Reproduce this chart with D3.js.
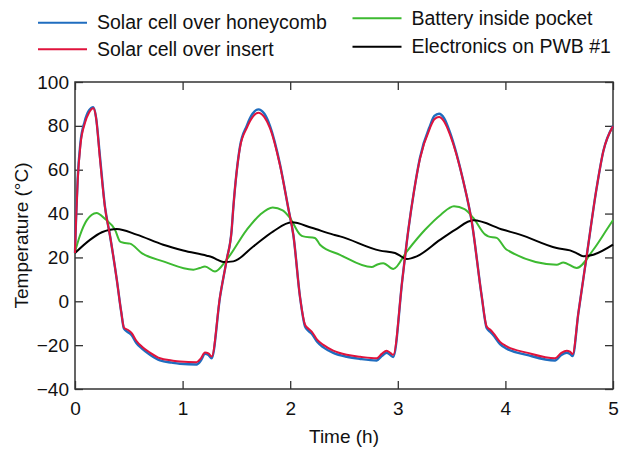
<!DOCTYPE html>
<html>
<head>
<meta charset="utf-8">
<script src="https://cdnjs.cloudflare.com/ajax/libs/d3/7.8.5/d3.min.js"></script>
<style>
  body { margin: 0; background: #fff; }
  text { font-family: "Liberation Sans", Arial, sans-serif; fill: #111; }
</style>
</head>
<body>
<div id="container"></div>
<script>
// time axis for solar cell curves (h)
const solarTime = [0, 0.01, 0.025, 0.05, 0.09, 0.13, 0.17, 0.195, 0.232, 0.279, 0.325, 0.388, 0.43, 0.455, 0.49, 0.527, 0.57, 0.62, 0.7, 0.79, 0.9, 0.976, 1.13, 1.17, 1.208, 1.24, 1.27, 1.348, 1.41, 1.456, 1.471, 1.533, 1.596, 1.65, 1.703, 1.76, 1.812, 1.905, 1.982, 2.03, 2.091, 2.138, 2.17, 2.2, 2.25, 2.308, 2.4, 2.525, 2.65, 2.804, 2.85, 2.897, 2.93, 2.958, 3.042, 3.098, 3.15, 3.206, 3.299, 3.34, 3.383, 3.43, 3.485, 3.609, 3.687, 3.78, 3.826, 3.86, 3.888, 3.95, 4.012, 4.198, 4.461, 4.52, 4.57, 4.6, 4.625, 4.678, 4.755, 4.848, 4.91, 5.0];
const honeycomb = [22, 38, 56, 72, 82, 87, 88.5, 84, 66, 43, 30, 10, -5, -12.5, -14, -15.5, -19, -21.5, -24.5, -27, -28, -28.5, -28.8, -27, -24, -24.5, -26, 2, 19, 32.6, 42.5, 70.5, 80, 85.5, 87.5, 85.5, 80, 62.5, 42.5, 30, 2, -11.5, -13.5, -14.8, -18.5, -21, -23.5, -25.3, -26.3, -27, -25, -23.5, -24.5, -25.4, 9.8, 32.6, 50, 65.5, 80, 84.5, 85.5, 83.5, 77, 54.7, 36.4, 2.2, -12.2, -14, -15.5, -19.5, -21.6, -24.4, -27, -24.5, -23.5, -24, -25, -5.4, 20.5, 51.7, 68.4, 80];
const insert = [22, 37, 55, 71, 81, 86, 88, 84, 65, 42.7, 30, 10, -5, -12, -13, -14.5, -18, -20.6, -23.5, -26, -27, -27.5, -27.8, -26, -23.4, -23.8, -25.2, 2.2, 19, 32.6, 42.5, 70, 79, 84, 86, 84, 79, 62, 42.5, 30, 2, -10.7, -12.5, -13.8, -17.5, -19.9, -22.5, -24.4, -25.3, -26, -24, -22.5, -23.5, -24.4, 9.8, 32.6, 50, 65, 79, 83, 84, 82, 76, 54.7, 36.4, 2.2, -11.5, -13, -14.5, -18.5, -20.6, -23.4, -26, -23.5, -22.5, -23, -24, -5.4, 20.5, 51.7, 68.4, 79.8];

const batteryTime = [0, 0.046, 0.11, 0.2, 0.28, 0.372, 0.418, 0.45, 0.511, 0.62, 0.82, 1.1, 1.16, 1.208, 1.301, 1.41, 1.596, 1.72, 1.837, 1.93, 1.998, 2.091, 2.122, 2.23, 2.277, 2.463, 2.757, 2.81, 2.865, 2.958, 3.083, 3.253, 3.4, 3.522, 3.62, 3.702, 3.81, 3.841, 3.919, 4.012, 4.477, 4.538, 4.663, 4.817, 4.941, 5.0];
const battery = [22.5, 30, 37, 40.3, 37.5, 32.6, 27.3, 26.7, 26.3, 22, 18.2, 14.4, 15.2, 15.9, 13.6, 19, 32.6, 39.5, 42.8, 41.5, 38, 30.5, 29.6, 28.9, 25.8, 21.2, 15.6, 16.8, 17.4, 14.7, 22.7, 32.6, 39.5, 43.3, 42, 38, 30.5, 29.6, 28.9, 23.5, 16.7, 17.7, 15.2, 23.5, 32.6, 37];

const pwbTime = [0, 0.139, 0.25, 0.325, 0.388, 0.573, 0.82, 1.006, 1.224, 1.27, 1.32, 1.378, 1.471, 1.657, 1.843, 2.014, 2.2, 2.4, 2.463, 2.835, 2.974, 3.03, 3.083, 3.176, 3.392, 3.532, 3.702, 3.98, 4.136, 4.477, 4.6, 4.66, 4.724, 4.817, 5.0];
const pwb = [22, 28, 31.5, 32.6, 33, 30.4, 25.8, 23.2, 20.8, 20.2, 19, 17.9, 18.2, 25, 31.9, 36, 33.5, 30.4, 29.6, 23.1, 22, 20.5, 19.3, 20.5, 28, 32.6, 36.9, 32.6, 30.4, 24.3, 23.2, 22, 20.5, 21.2, 25.8];

const xTicks = [0, 1, 2, 3, 4, 5];
const yTicks = [-40, -20, 0, 20, 40, 60, 80, 100];

const seriesNames = ["Solar cell over honeycomb", "Solar cell over insert", "Battery inside pocket", "Electronics on PWB #1"];
const seriesColors = ["#1f6dbf", "#e0133c", "#3dba31", "#000000"];

const w = 619;
const h = 449;
const padL = 75, padR = 613, padT = 82, padB = 389;

const xScale = d3.scaleLinear().domain([0, 5]).range([padL, padR]);
const yScale = d3.scaleLinear().domain([-40, 100]).range([padB, padT]);

const svg = d3.select("#container")
  .append("svg")
  .attr("width", w)
  .attr("height", h);

// axes: inward ticks on all four sides
svg.append("g")
  .attr("transform", "translate(0," + padB + ")")
  .call(d3.axisBottom(xScale).tickValues(xTicks).tickFormat(d3.format("d")).tickSizeInner(-8).tickSizeOuter(0).tickPadding(13))
  .call(g => g.select(".domain").remove())
  .call(g => g.selectAll("text").style("font-size", "19px").style("font-family", "Liberation Sans, Arial, sans-serif").attr("fill", "#111"));

svg.append("g")
  .attr("transform", "translate(0," + padT + ")")
  .call(d3.axisTop(xScale).tickValues(xTicks).tickSizeInner(-8).tickSizeOuter(0).tickFormat(""))
  .call(g => g.select(".domain").remove());

svg.append("g")
  .attr("transform", "translate(" + padL + ",0)")
  .call(d3.axisLeft(yScale).tickValues(yTicks).tickSizeInner(-8).tickSizeOuter(0).tickPadding(6))
  .call(g => g.select(".domain").remove())
  .call(g => g.selectAll("text").style("font-size", "19px").style("font-family", "Liberation Sans, Arial, sans-serif").attr("fill", "#111").text(d => d < 0 ? "\u2212" + Math.abs(d) : d));

svg.append("g")
  .attr("transform", "translate(" + padR + ",0)")
  .call(d3.axisRight(yScale).tickValues(yTicks).tickSizeInner(-8).tickSizeOuter(0).tickFormat(""))
  .call(g => g.select(".domain").remove());

svg.selectAll(".tick line").attr("stroke", "#333").attr("stroke-width", 1.3);

svg.append("rect")
  .attr("x", padL)
  .attr("y", padT)
  .attr("width", padR - padL)
  .attr("height", padB - padT)
  .attr("fill", "none")
  .attr("stroke", "#333")
  .attr("stroke-width", 1.5);

// lines
const line = d3.line()
  .x(d => xScale(d[0]))
  .y(d => yScale(d[1]))
  .curve(d3.curveMonotoneX);

const series = [
  { t: solarTime, v: honeycomb, c: seriesColors[0], sw: 2.4 },
  { t: batteryTime, v: battery, c: seriesColors[2], sw: 2 },
  { t: pwbTime, v: pwb, c: seriesColors[3], sw: 2 },
  { t: solarTime, v: insert, c: seriesColors[1], sw: 2 }
];

svg.append("g").selectAll("path")
  .data(series)
  .enter()
  .append("path")
  .attr("d", s => line(s.t.map((t, i) => [t, s.v[i]])))
  .attr("fill", "none")
  .attr("stroke", s => s.c)
  .attr("stroke-width", s => s.sw)
  .attr("stroke-linejoin", "round");

// legend
const legendPos = [[38, 22.7], [38, 49.3], [352.5, 18.3], [352.5, 46.7]];
const legend = svg.append("g").selectAll("g")
  .data(seriesNames)
  .enter()
  .append("g")
  .attr("transform", (d, i) => "translate(" + legendPos[i][0] + "," + legendPos[i][1] + ")");

legend.append("line")
  .attr("x1", 0).attr("x2", 49)
  .attr("stroke", (d, i) => seriesColors[i])
  .attr("stroke-width", 2);

legend.append("text")
  .attr("x", 59)
  .attr("y", 6.5)
  .style("font-size", "19.5px")
  .text(d => d);

// axis titles
svg.append("text")
  .attr("x", (padL + padR) / 2)
  .attr("y", 443)
  .attr("text-anchor", "middle")
  .style("font-size", "19px")
  .text("Time (h)");

svg.append("text")
  .attr("transform", "translate(28," + ((padT + padB) / 2) + ") rotate(-90)")
  .attr("text-anchor", "middle")
  .style("font-size", "19px")
  .text("Temperature (\u00b0C)");
</script>
</body>
</html>
